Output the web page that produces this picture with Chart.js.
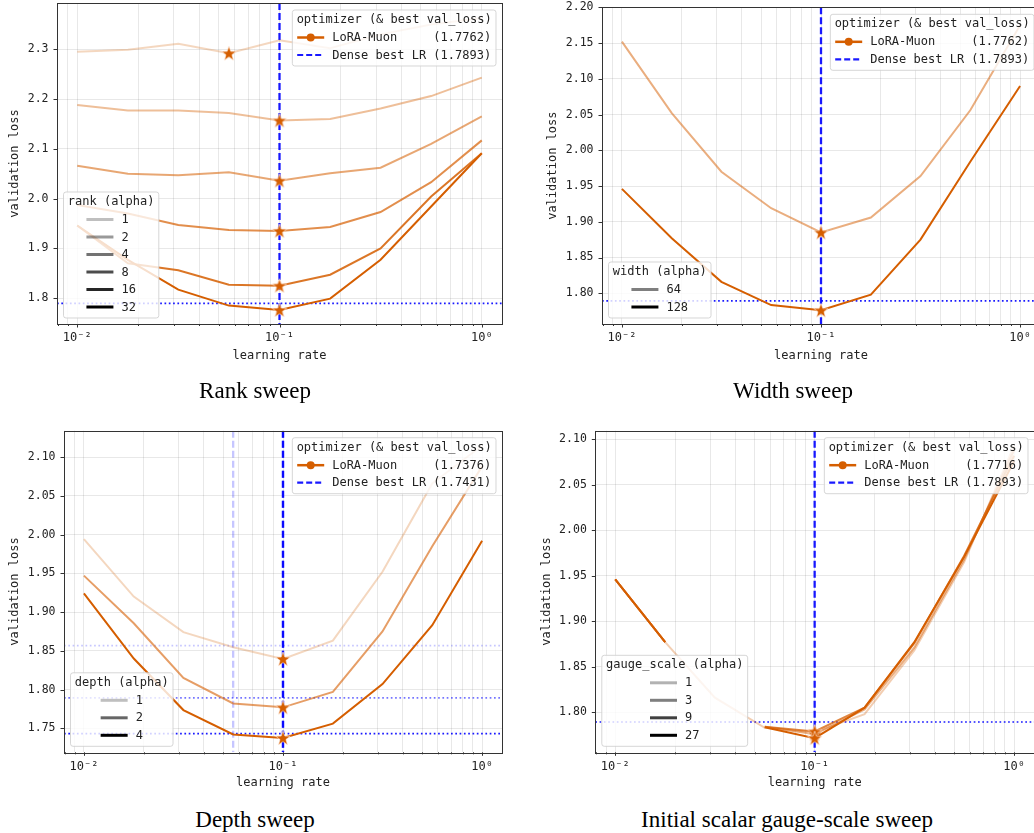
<!DOCTYPE html>
<html>
<head>
<meta charset="utf-8">
<script src="https://cdn.jsdelivr.net/npm/chart.js@4.4.1/dist/chart.umd.min.js"></script>
<style>
html, body { margin: 0; padding: 0; background: #fff; overflow: hidden; }
#fig { position: relative; width: 1034px; height: 833px; overflow: hidden; }
#fig canvas { position: absolute; }
.cap { position: absolute; font-family: "Liberation Serif", "Times New Roman", serif; font-size: 23px;
       color: #000; white-space: nowrap; transform: translateX(-50%); line-height: 26px; }
</style>
</head>
<body>
<div id="fig">
  <canvas id="c1"></canvas>
  <canvas id="c2"></canvas>
  <canvas id="c3"></canvas>
  <canvas id="c4"></canvas>
  <div class="cap" style="left:255px; top:378px">Rank sweep</div>
  <div class="cap" style="left:793px; top:378px">Width sweep</div>
  <div class="cap" style="left:255px; top:807px">Depth sweep</div>
  <div class="cap" style="left:787px; top:807px">Initial scalar gauge-scale sweep</div>
</div>
<script>
// learning rates on the x axis (same grid for every panel)
const learningRates = [0.01, 0.0178, 0.0316, 0.0562, 0.1, 0.178, 0.316, 0.562, 1.0];
const xMajorTicks = [0.01, 0.1, 1];

// rank sweep
const rankLabels = ['1', '2', '4', '8', '16', '32'];
const rank1Loss  = [2.295, 2.299, 2.311, 2.292, 2.318, 2.302, 2.330, 2.350, 2.363];
const rank2Loss  = [2.188, 2.177, 2.177, 2.172, 2.157, 2.160, 2.181, 2.206, 2.243];
const rank4Loss  = [2.066, 2.050, 2.047, 2.053, 2.036, 2.051, 2.062, 2.110, 2.165];
const rank8Loss  = [1.987, 1.970, 1.947, 1.937, 1.935, 1.943, 1.973, 2.033, 2.117];
const rank16Loss = [1.946, 1.870, 1.856, 1.827, 1.825, 1.847, 1.900, 2.004, 2.091];
const rank32Loss = [1.946, 1.877, 1.817, 1.785, 1.7762, 1.799, 1.877, 1.984, 2.091];
const rankYTicks = [1.8, 1.9, 2.0, 2.1, 2.2, 2.3];

// width sweep
const widthLabels = ['64', '128'];
const width64Loss  = [2.152, 2.052, 1.970, 1.919, 1.885, 1.906, 1.964, 2.056, 2.175];
const width128Loss = [1.946, 1.877, 1.816, 1.7835, 1.7762, 1.798, 1.875, 1.984, 2.090];
const widthYTicks = [1.80, 1.85, 1.90, 1.95, 2.00, 2.05, 2.10, 2.15, 2.20];

// depth sweep
const depthLabels = ['1', '2', '4'];
const depth1Loss = [1.994, 1.920, 1.874, 1.8545, 1.8395, 1.863, 1.952, 2.066, 2.115];
const depth2Loss = [1.947, 1.8855, 1.815, 1.782, 1.777, 1.797, 1.875, 1.985, 2.088];
const depth4Loss = [1.924, 1.840, 1.7735, 1.742, 1.7376, 1.756, 1.807, 1.883, 1.992];
const depthYTicks = [1.75, 1.80, 1.85, 1.90, 1.95, 2.00, 2.05, 2.10];
const depthDenseLR   = [0.0562, 0.1, 0.1];
const depthDenseLoss = [1.8567, 1.7893, 1.7431];

// gauge-scale sweep (null = missing run)
const gaugeLabels = ['1', '3', '9', '27'];
const gauge1Loss  = [1.946, 1.877, 1.816, 1.783, 1.778, 1.798, 1.868, 1.965, 2.093];
const gauge3Loss  = [1.946, 1.877, null, 1.784, 1.776, 1.803, 1.871, 1.968, 2.088];
const gauge9Loss  = [1.946, 1.877, null, 1.784, 1.779, 1.805, 1.876, 1.972, 2.082];
const gauge27Loss = [1.946, 1.877, null, 1.7835, 1.7716, 1.805, 1.877, 1.971, 2.076];
const gaugeYTicks = [1.80, 1.85, 1.90, 1.95, 2.00, 2.05, 2.10];

// dense baseline and best LoRA value shown in the optimizer legends
const denseLR   = [0.1];
const denseLoss = [1.7893];
const loraBest  = [1.7762, 1.7762, 1.7376, 1.7716];
const denseBest = [1.7893, 1.7893, 1.7431, 1.7893];

const mono = '"DejaVu Sans Mono", monospace';
const inkColor = '#222';
const gridColor = 'rgba(0,0,0,0.09)';

function supExp(e) {
  const map = { '-': '⁻', '0': '⁰', '1': '¹', '2': '²', '3': '³', '4': '⁴', '5': '⁵', '6': '⁶', '7': '⁷', '8': '⁸', '9': '⁹' };
  return String(e).split('').map(c => map[c]).join('');
}
function xTickLabel(v) {
  const hit = xMajorTicks.find(m => Math.abs(m - v) < m * 1e-6);
  return hit ? '10' + supExp(Math.round(Math.log10(hit))) : '';
}
const xAllTicks = [];
[0.001, 0.01, 0.1, 1].forEach(d => { for (let m = 1; m <= 9; m++) xAllTicks.push(m * d); });

function argmin(vals) {
  let b = -1;
  vals.forEach((v, i) => { if (v !== null && (b < 0 || v < vals[b])) b = i; });
  return b;
}

function makeStar() {
  const c = document.createElement('canvas');
  c.width = c.height = 20;
  const g = c.getContext('2d');
  g.beginPath();
  for (let i = 0; i < 10; i++) {
    const r = i % 2 ? 3.1 : 7.6;
    const a = -Math.PI / 2 + i * Math.PI / 5;
    g.lineTo(10 + r * Math.cos(a), 10.6 + r * Math.sin(a));
  }
  g.closePath();
  g.fillStyle = '#d55e00';
  g.fill();
  g.lineWidth = 0.8;
  g.strokeStyle = 'rgba(255,235,220,0.8)';
  g.stroke();
  return c;
}
const star = makeStar();

function drawLegend(ctx, lg, ax, ay, corner) {
  ctx.save();
  ctx.font = '12px ' + mono;
  const handle = 27, gap = 8, pad = 4.3;
  const titleW = ctx.measureText(lg.title).width;
  const labelW = Math.max(...lg.items.map(it => ctx.measureText(it.label).width));
  const blockW = handle + gap + labelW;
  const w = Math.max(titleW, blockW) + 2 * pad;
  const h = 21 + 17.5 * lg.items.length;
  const left = corner === 'ne' ? ax - w : ax;
  const top = corner === 'ne' ? ay : ay - h;
  ctx.beginPath();
  ctx.roundRect(left, top, w, h, 2.5);
  ctx.fillStyle = 'rgba(255,255,255,0.8)';
  ctx.fill();
  ctx.strokeStyle = 'rgba(204,204,204,0.8)';
  ctx.lineWidth = 1;
  ctx.stroke();
  ctx.fillStyle = inkColor;
  ctx.textBaseline = 'middle';
  ctx.textAlign = 'center';
  ctx.fillText(lg.title, left + w / 2, top + 10);
  ctx.textAlign = 'left';
  const x0 = left + (w - blockW) / 2;
  lg.items.forEach((it, i) => {
    const cy = top + 10 + 17.5 * (i + 1);
    ctx.strokeStyle = it.color;
    ctx.lineWidth = it.lw;
    ctx.setLineDash(it.dash || []);
    ctx.beginPath();
    ctx.moveTo(x0, cy);
    ctx.lineTo(x0 + handle, cy);
    ctx.stroke();
    ctx.setLineDash([]);
    if (it.marker) {
      ctx.fillStyle = it.color;
      ctx.beginPath();
      ctx.arc(x0 + handle / 2, cy, 4, 0, 2 * Math.PI);
      ctx.fill();
    }
    ctx.fillStyle = inkColor;
    ctx.fillText(it.label, x0 + handle + gap, cy + 0.5);
  });
  ctx.restore();
}

const decoPlugin = {
  id: 'deco',
  beforeDatasetsDraw(chart, args, o) {
    const { ctx, chartArea: a, scales: { x, y } } = chart;
    ctx.save();
    ctx.beginPath();
    ctx.rect(a.left, a.top, a.right - a.left, a.bottom - a.top);
    ctx.clip();
    o.hLines.forEach(hl => {
      const py = y.getPixelForValue(hl.y);
      ctx.strokeStyle = `rgba(0,0,255,${0.9 * hl.a})`;
      ctx.lineWidth = 1.7;
      ctx.setLineDash([1.7, 2.6]);
      ctx.beginPath(); ctx.moveTo(a.left, py); ctx.lineTo(a.right, py); ctx.stroke();
    });
    o.vLines.forEach(vl => {
      const px = x.getPixelForValue(vl.x);
      ctx.strokeStyle = `rgba(0,0,255,${0.9 * vl.a})`;
      ctx.lineWidth = 2.3;
      ctx.setLineDash([7, 3]);
      ctx.beginPath(); ctx.moveTo(px, a.top); ctx.lineTo(px, a.bottom); ctx.stroke();
    });
    ctx.restore();
  },
  afterDraw(chart, args, o) {
    const { ctx, chartArea: a, scales: { x, y } } = chart;
    ctx.save();
    ctx.strokeStyle = '#333';
    ctx.lineWidth = 1;
    x.ticks.forEach(t => {
      const px = Math.round(x.getPixelForValue(t.value)) + 0.5;
      const len = xTickLabel(t.value) ? 3.5 : 2;
      ctx.beginPath(); ctx.moveTo(px, a.bottom); ctx.lineTo(px, a.bottom + len); ctx.stroke();
    });
    y.ticks.forEach(t => {
      const py = Math.round(y.getPixelForValue(t.value)) + 0.5;
      ctx.beginPath(); ctx.moveTo(a.left, py); ctx.lineTo(a.left - 3.5, py); ctx.stroke();
    });
    ctx.strokeRect(Math.round(a.left) + 0.5, Math.round(a.top) + 0.5,
                   Math.round(a.right - a.left), Math.round(a.bottom - a.top));
    ctx.restore();
    drawLegend(ctx, o.lower, a.left + 6.5, a.bottom - 6, 'sw');
    drawLegend(ctx, o.upper, a.right - 6, a.top + 7, 'ne');
  }
};

function makePanel(p, k) {
  const cv = document.getElementById(p.id);
  const [cx, cy, cw, ch] = p.box;
  const [L, T, R, B] = p.area;
  cv.width = cw; cv.height = ch;
  cv.style.left = cx + 'px'; cv.style.top = cy + 'px';
  const yAxisW = L - cx, xAxisH = cy + ch - B;
  const n = p.series.length;
  const datasets = p.series.map((vals, i) => {
    const best = argmin(vals);
    return {
      label: p.labels[i],
      data: learningRates.map((lr, j) => ({ x: lr, y: vals[j] })),
      borderColor: `rgba(213,94,0,${p.alphas[i]})`,
      borderWidth: 2,
      tension: 0,
      fill: false,
      spanGaps: false,
      pointStyle: star,
      pointRadius: c => c.dataIndex === best ? 6 : 0,
      pointHoverRadius: 0,
      pointHitRadius: 0,
      order: n - i
    };
  });
  const upper = {
    title: 'optimizer (& best val_loss)',
    items: [
      { label: 'LoRA-Muon     (' + loraBest[k].toFixed(4) + ')', color: '#d55e00', lw: 2.5, marker: true },
      { label: 'Dense best LR (' + denseBest[k].toFixed(4) + ')', color: 'rgba(0,0,255,0.9)', lw: 2.2, dash: [6, 3] }
    ]
  };
  const lower = {
    title: p.legendTitle,
    items: p.labels.map((lab, i) => ({ label: lab, color: `rgba(0,0,0,${p.alphas[i]})`, lw: 3 }))
  };
  new Chart(cv, {
    type: 'line',
    data: { datasets },
    plugins: [decoPlugin],
    options: {
      responsive: false,
      animation: false,
      devicePixelRatio: 1,
      events: [],
      layout: { padding: { left: 0, top: T - cy, right: cx + cw - R, bottom: 0 } },
      plugins: {
        legend: { display: false },
        tooltip: { enabled: false },
        deco: {
          hLines: p.hLines.map((v, i) => ({ y: v, a: p.refAlphas[i] })),
          vLines: p.vLines.map((v, i) => ({ x: v, a: p.refAlphas[i] })),
          upper, lower
        }
      },
      scales: {
        x: {
          type: 'logarithmic',
          min: Math.pow(10, -2.1),
          max: Math.pow(10, 0.1),
          afterBuildTicks: s => { s.ticks = xAllTicks.filter(v => v >= s.min && v <= s.max).map(v => ({ value: v })); },
          afterFit: s => { s.height = xAxisH; },
          ticks: { autoSkip: false, maxRotation: 0, minRotation: 0, padding: 7, color: inkColor,
                   font: { family: mono, size: 12 }, callback: v => xTickLabel(v) },
          grid: { color: gridColor, lineWidth: 1, drawTicks: false },
          border: { display: false },
          title: { display: true, text: 'learning rate', color: inkColor, font: { family: mono, size: 12 },
                   padding: { top: 0, bottom: cy + ch - p.xTitleY - 7.2 } }
        },
        y: {
          type: 'linear',
          min: p.yMin,
          max: p.yMax,
          afterBuildTicks: s => { s.ticks = p.yTicks.map(v => ({ value: v })); },
          afterFit: s => { s.width = yAxisW; },
          ticks: { padding: 8.5, color: inkColor, font: { family: mono, size: 11.5 },
                   callback: v => Number(v).toFixed(p.digits) },
          grid: { color: gridColor, lineWidth: 1, drawTicks: false },
          border: { display: false },
          title: { display: true, text: 'validation loss', color: inkColor, font: { family: mono, size: 12 },
                   padding: { top: p.yTitleX - cx - 7.2, bottom: 0 } }
        }
      }
    }
  });
}

const panels = [
  { id: 'c1', box: [0, -20, 520, 390], area: [57, 3, 502, 324], yTitleX: 15, xTitleY: 356,
    yMin: 1.748, yMax: 2.393, yTicks: rankYTicks, digits: 1,
    series: [rank1Loss, rank2Loss, rank4Loss, rank8Loss, rank16Loss, rank32Loss], labels: rankLabels,
    alphas: [0.25, 0.4, 0.55, 0.7, 0.85, 1.0], legendTitle: 'rank (alpha)',
    hLines: denseLoss, vLines: denseLR, refAlphas: [1] },
  { id: 'c2', box: [520, -20, 540, 390], area: [602, 7.3, 1040, 324], yTitleX: 553.3, xTitleY: 356,
    yMin: 1.757, yMax: 2.20, yTicks: widthYTicks, digits: 2,
    series: [width64Loss, width128Loss], labels: widthLabels,
    alphas: [0.5, 1.0], legendTitle: 'width (alpha)',
    hLines: denseLoss, vLines: denseLR, refAlphas: [1] },
  { id: 'c3', box: [0, 400, 520, 400], area: [64, 430.7, 502, 752.3], yTitleX: 15, xTitleY: 783.3,
    yMin: 1.719, yMax: 2.134, yTicks: depthYTicks, digits: 2,
    series: [depth1Loss, depth2Loss, depth4Loss], labels: depthLabels,
    alphas: [0.25, 0.6, 1.0], legendTitle: 'depth (alpha)',
    hLines: depthDenseLoss, vLines: depthDenseLR, refAlphas: [0.25, 0.6, 1.0] },
  { id: 'c4', box: [520, 400, 540, 400], area: [595.3, 430.7, 1034, 752.3], yTitleX: 546.7, xTitleY: 783.3,
    yMin: 1.756, yMax: 2.1095, yTicks: gaugeYTicks, digits: 2,
    series: [gauge1Loss, gauge3Loss, gauge9Loss, gauge27Loss], labels: gaugeLabels,
    alphas: [0.3, 0.5, 0.75, 1.0], legendTitle: 'gauge_scale (alpha)',
    hLines: denseLoss, vLines: denseLR, refAlphas: [1] }
];

panels.forEach(makePanel);
</script>
</body>
</html>
